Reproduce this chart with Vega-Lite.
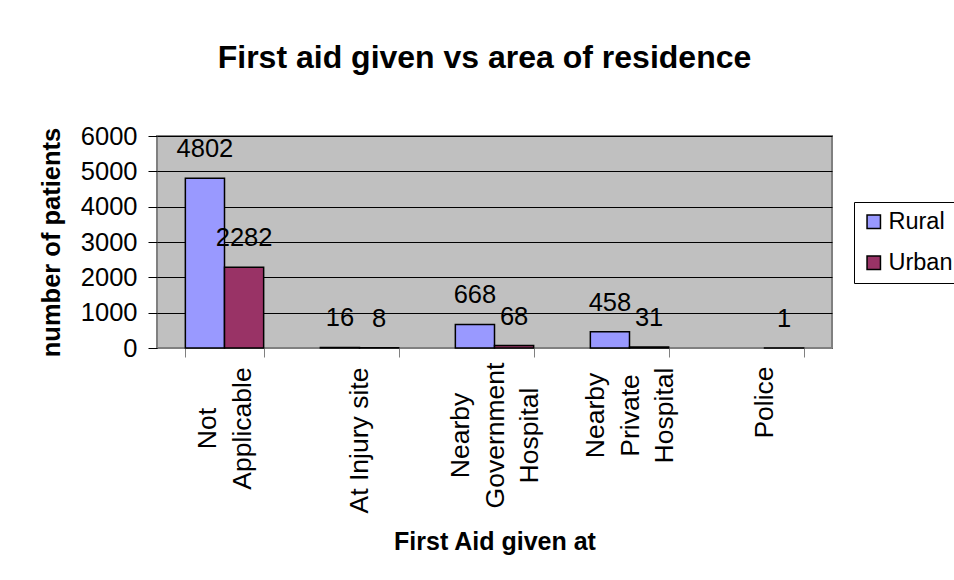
{
  "$schema": "https://vega.github.io/schema/vega-lite/v6.json",
  "autosize": "none",
  "width": 675,
  "height": 212,
  "padding": {"left": 157, "top": 136, "right": 122, "bottom": 232},
  "background": "white",
  "title": {
    "text": "First aid given vs area of residence",
    "fontSize": 32,
    "fontWeight": "bold",
    "font": "Liberation Sans",
    "color": "black",
    "anchor": "middle",
    "dx": -10,
    "offset": 49
  },
  "data": {
    "values": [
      {"place": "Not Applicable", "area": "Rural", "patients": 4802},
      {"place": "Not Applicable", "area": "Urban", "patients": 2282},
      {"place": "At Injury site", "area": "Rural", "patients": 16},
      {"place": "At Injury site", "area": "Urban", "patients": 8},
      {"place": "Nearby Government Hospital", "area": "Rural", "patients": 668},
      {"place": "Nearby Government Hospital", "area": "Urban", "patients": 68},
      {"place": "Nearby Private Hospital", "area": "Rural", "patients": 458},
      {"place": "Nearby Private Hospital", "area": "Urban", "patients": 31},
      {"place": "Police", "area": "Urban", "patients": 1}
    ]
  },
  "encoding": {
    "x": {
      "field": "place",
      "type": "nominal",
      "sort": ["Not Applicable", "At Injury site", "Nearby Government Hospital", "Nearby Private Hospital", "Police"],
      "scale": {"paddingInner": 0.42, "paddingOuter": 0.21},
      "axis": {
        "title": "First Aid given at",
        "titleFontSize": 25,
        "titleFontWeight": "bold",
        "titleFont": "Liberation Sans",
        "titleColor": "black",
        "titlePadding": 17,
        "labelAngle": -90,
        "labelAlign": "center",
        "labelFontSize": 26.5,
        "labelFont": "Liberation Sans",
        "labelColor": "black",
        "labelLineHeight": 34.5,
        "labelPadding": {
          "condition": [
            {"test": "datum.value == 'Not Applicable'", "value": 71},
            {"test": "datum.value == 'At Injury site'", "value": 83},
            {"test": "datum.value == 'Nearby Government Hospital'", "value": 78},
            {"test": "datum.value == 'Nearby Private Hospital'", "value": 58}
          ],
          "value": 45
        },
        "labelOffset": {
          "condition": [
            {"test": "datum.value == 'Not Applicable'", "value": -17},
            {"test": "datum.value == 'Nearby Government Hospital' || datum.value == 'Nearby Private Hospital'", "value": -34}
          ],
          "value": 0
        },
        "labelExpr": "datum.value == null ? '' : (datum.value == 'At Injury site' || datum.value == 'Police' ? datum.value : split(datum.value, ' '))",
        "tickBand": "extent",
        "tickSize": 9,
        "tickColor": "#808080",
        "domainColor": "#808080",
        "domainWidth": 1,
        "grid": false
      }
    },
    "xOffset": {"field": "area", "type": "nominal", "scale": {"domain": ["Rural", "Urban"], "paddingInner": 0, "paddingOuter": 0}},
    "y": {
      "field": "patients",
      "type": "quantitative",
      "scale": {"domain": [0, 6000], "nice": false},
      "axis": {
        "title": "number of patients",
        "titleFontSize": 25.5,
        "titleFontWeight": "bold",
        "titleFont": "Liberation Sans",
        "titleColor": "black",
        "titlePadding": 16,
        "values": [0, 1000, 2000, 3000, 4000, 5000, 6000],
        "format": "d",
        "labelFontSize": 25.5,
        "labelFont": "Liberation Sans",
        "labelColor": "black",
        "labelPadding": 11,
        "tickSize": 9,
        "tickColor": "black",
        "domain": false,
        "grid": true,
        "gridColor": "black",
        "gridWidth": 1,
        "gridOpacity": 1
      }
    }
  },
  "layer": [
    {
      "mark": {"type": "bar", "stroke": "black", "strokeWidth": 1.5},
      "encoding": {
        "color": {
          "field": "area",
          "type": "nominal",
          "scale": {"domain": ["Rural", "Urban"], "range": ["#9999FF", "#993366"]},
          "legend": {
            "title": null,
            "orient": "none",
            "legendX": 697,
            "legendY": 66,
            "strokeColor": "black",
            "fillColor": "white",
            "padding": 8,
            "symbolType": "square",
            "symbolSize": 180,
            "symbolStrokeColor": "black",
            "symbolStrokeWidth": 1.5,
            "symbolOpacity": 1,
            "labelFontSize": 23.5,
            "labelFont": "Liberation Sans",
            "labelColor": "black",
            "labelOffset": 3,
            "rowPadding": 16
          }
        }
      }
    },
    {
      "mark": {"type": "text", "baseline": "middle", "align": "center", "dy": -29, "fontSize": 25.5, "font": "Liberation Sans", "color": "black"},
      "encoding": {
        "text": {"field": "patients", "type": "quantitative", "format": "d"}
      }
    }
  ],
  "config": {
    "view": {"fill": "#C0C0C0", "stroke": "#808080", "strokeWidth": 2},
    "axis": {"labelFlush": false}
  }
}
